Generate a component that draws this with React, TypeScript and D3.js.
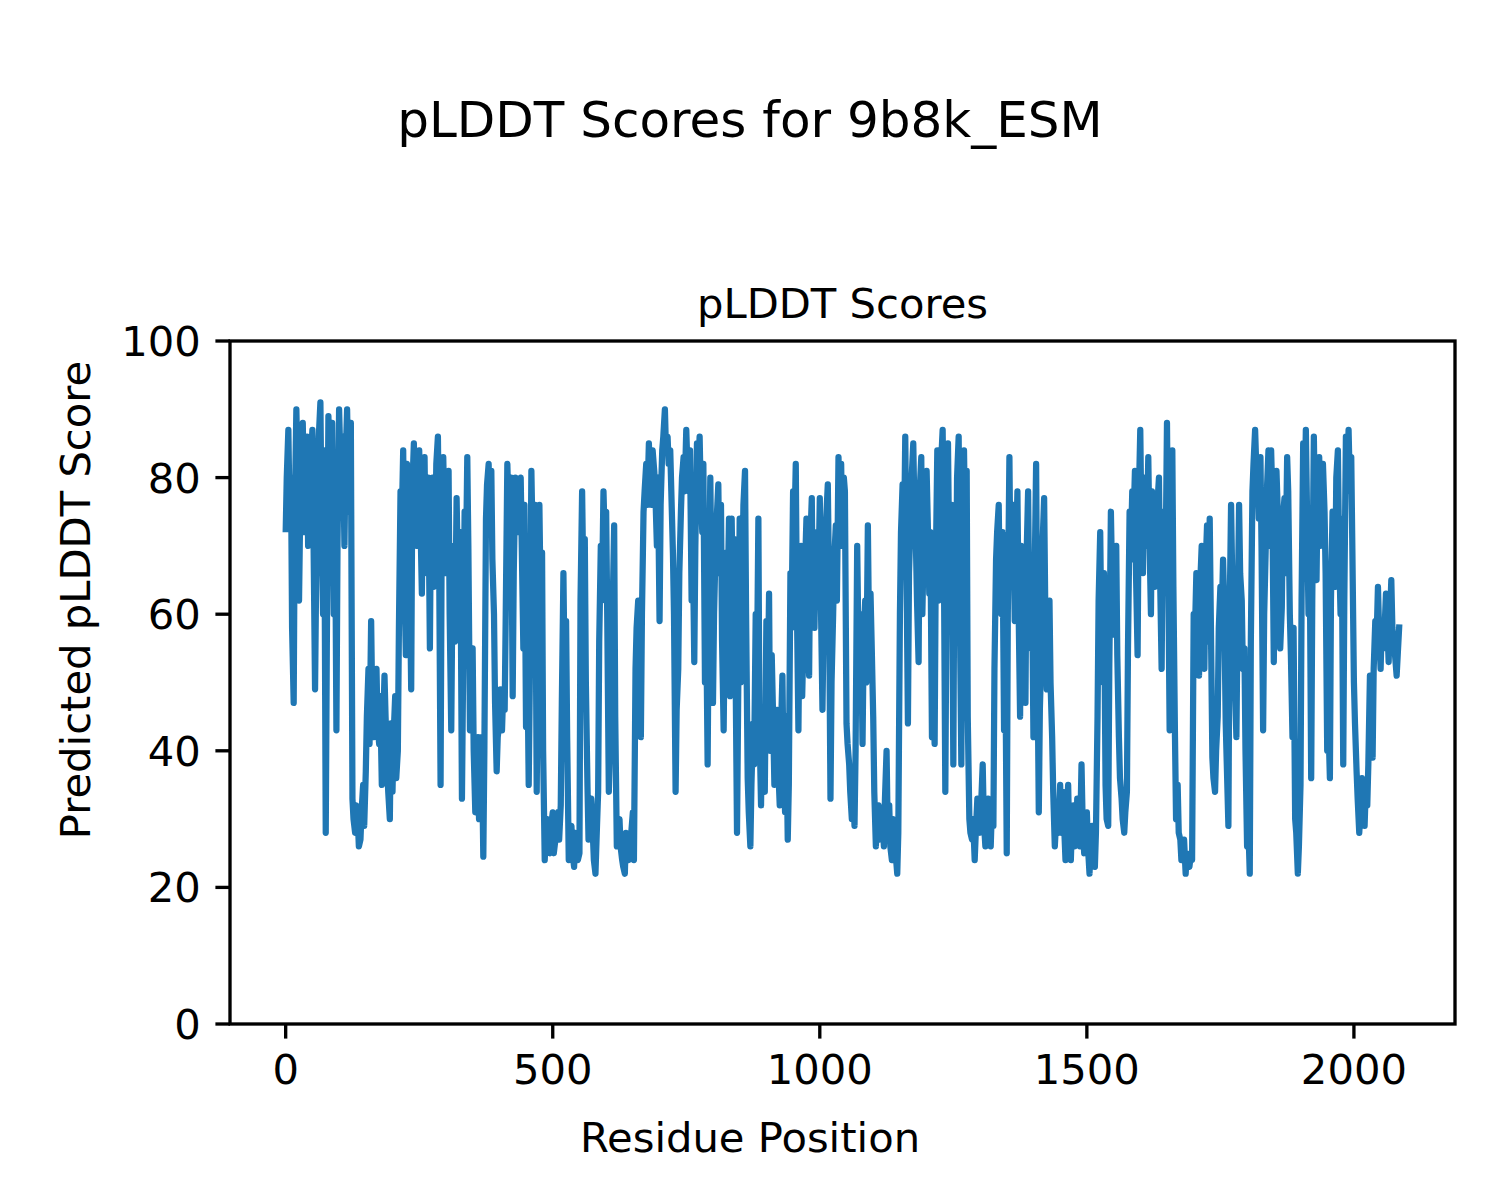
import React from "react";
import * as d3 from "d3";

// Scores sampled every 5 residues (residue = 5 * i)
const RESIDUE_STEP = 5;
// Extra samples between them (residue = 5 * i + 2)
const MID_OFFSET = 2;

const scores: number[] = [
  72, 87, 80, 47, 90, 62, 84, 72, 86, 75,
  87, 49, 80, 91, 60, 28, 89, 75, 60, 43,
  90, 78, 70, 90, 75, 33, 28, 30, 27, 35,
  37, 52, 59, 42, 52, 41, 35, 51, 38, 30,
  34, 48, 40, 78, 84, 54, 80, 49, 85, 70,
  84, 63, 83, 66, 55, 80, 70, 86, 35, 83,
  66, 81, 43, 70, 77, 58, 33, 75, 83, 43,
  55, 31, 42, 36, 24.5, 74, 82, 81, 60, 37,
  44, 43, 46, 82, 72, 48, 80, 72, 80, 55,
  43.5, 35, 81, 60, 34, 76, 69, 24, 30, 25,
  31, 27, 31, 32, 66, 59, 24, 29, 23, 26,
  25, 78, 71, 35, 30, 28, 22, 34, 70, 78,
  75, 34, 50, 73, 26, 30, 24, 22, 26, 25,
  31, 52, 62, 42, 75, 82, 85, 76, 81, 70,
  59, 84, 90, 86, 84, 69, 34, 52, 75, 83,
  87, 78, 62, 53, 85, 86, 72, 50, 38, 80,
  47, 70, 79, 76, 43, 69, 74, 74, 71, 28,
  74, 65, 81, 36, 26, 44, 60, 74, 32, 40,
  59, 63, 54, 35, 46, 32, 51, 31, 27, 66,
  78, 82, 43, 70, 58, 74, 51, 77, 58, 72,
  77, 46, 68, 79, 33, 60, 73, 83, 82, 80,
  44, 38, 30, 29, 70, 50, 41, 62, 73, 63,
  45, 26, 32, 28, 26, 40, 32, 24, 28, 22,
  60, 79, 86, 44, 74, 85, 70, 53, 83, 72,
  81, 63, 42, 41, 84, 70, 87, 34, 85, 60,
  38, 60, 86, 38, 84, 81, 30, 27, 24, 33,
  28, 38, 26, 33, 26, 29, 68, 76, 60, 43,
  25, 83, 70, 59, 78, 45, 60, 47, 78, 55,
  42, 82, 31, 55, 77, 49, 62, 42, 26, 32,
  35, 34, 24, 35, 24, 32, 27, 30, 38, 25,
  31, 22, 29, 23, 45, 72, 50, 35, 29, 75,
  57, 70, 42, 33, 28, 34, 75, 78, 81, 54,
  87, 66, 76, 83, 60, 75, 68, 80, 52, 75,
  88, 43, 84, 42, 35, 27, 25, 22, 24, 25,
  60, 66, 51, 70, 52, 73, 74, 39, 34, 45,
  64, 68, 44, 29, 76, 60, 42, 76, 62, 55,
  26, 22, 78, 87, 80, 83, 43, 70, 84, 84,
  53, 81, 70, 61, 77, 83, 60, 42, 30, 22,
  35, 85, 87, 60, 36, 86, 65, 83, 78, 75,
  40, 36, 75, 64, 84, 60, 38, 86, 87, 83,
  50, 37, 28, 36, 29, 32, 51, 39, 59, 64,
  52, 55, 63, 53, 65, 55, 51, 58.5,
];

const midScores: number[] = [
  80, 76, 58, 75, 82, 74, 88, 78, 70, 82,
  72, 65, 86, 75, 84, 55, 80, 88, 82, 70,
  84, 86, 82, 80, 88, 30, 32, 26, 31, 29,
  45, 41, 47, 50, 44, 48, 42, 45, 34, 44,
  42, 36, 58, 72, 66, 82, 68, 78, 75, 80,
  75, 78, 70, 80, 76, 64, 82, 72, 70, 75,
  75, 60, 62, 56, 68, 72, 50, 64, 70, 50,
  40, 38, 30, 42, 40, 79, 72, 68, 47, 42,
  49, 48, 60, 76, 80, 66, 75, 79, 70, 76,
  58, 50, 72, 76, 55, 64, 40, 28, 26, 29,
  25, 30, 27, 47, 52, 42, 27, 25, 28, 24,
  62, 66, 50, 27, 33, 24, 27, 56, 62, 72,
  60, 40, 60, 45, 28, 26, 23, 28, 24, 28,
  24, 58, 54, 60, 78, 76, 80, 84, 78, 80,
  76, 86, 84, 82, 78, 60, 46, 66, 80, 78,
  82, 84, 72, 70, 80, 78, 82, 62, 60, 66,
  60, 74, 66, 56, 58, 60, 48, 62, 55, 46,
  50, 76, 60, 31, 35, 38, 48, 44, 46, 34,
  45, 40, 47, 44, 38, 42, 38, 45, 35, 58,
  70, 62, 60, 48, 66, 58, 70, 60, 68, 62,
  62, 58, 74, 66, 50, 68, 62, 76, 70, 78,
  41, 34, 36, 40, 58, 60, 55, 50, 58, 56,
  34, 30, 27, 31, 33, 29, 26, 30, 25, 28,
  72, 66, 70, 66, 80, 76, 62, 78, 60, 77,
  74, 72, 50, 66, 62, 82, 72, 60, 70, 76,
  70, 80, 62, 70, 72, 45, 28, 30, 28, 30,
  32, 30, 30, 28, 31, 52, 72, 62, 72, 58,
  60, 66, 76, 66, 62, 70, 55, 68, 62, 68,
  64, 58, 46, 70, 62, 56, 50, 34, 29, 28,
  28, 30, 30, 27, 29, 26, 33, 26, 30, 28,
  26, 27, 25, 28, 62, 58, 66, 30, 52, 66,
  66, 54, 36, 30, 31, 55, 68, 72, 66, 76,
  74, 80, 70, 72, 78, 64, 76, 66, 72, 64,
  70, 72, 64, 30, 28, 24, 27, 25, 23, 24,
  56, 58, 64, 58, 66, 56, 60, 36, 40, 58,
  58, 62, 38, 58, 66, 50, 58, 66, 52, 40,
  30, 56, 82, 82, 74, 70, 60, 78, 70, 78,
  66, 76, 55, 74, 66, 78, 54, 58, 28, 26,
  62, 72, 76, 72, 62, 74, 78, 70, 82, 66,
  45, 62, 68, 80, 70, 74, 62, 78, 80, 70,
  44, 33, 31, 33, 34, 38, 44, 52, 55, 58,
  58, 57, 60, 58, 58, 54, 54,
];

const xTicks: number[] = [0, 500, 1000, 1500, 2000];
const yTicks: number[] = [0, 20, 40, 60, 80, 100];

const FIG_TITLE = "pLDDT Scores for 9b8k_ESM";
const AX_TITLE = "pLDDT Scores";
const X_LABEL = "Residue Position";
const Y_LABEL = "Predicted pLDDT Score";

const W = 1500;
const H = 1200;
const left = 230;
const right = 1455;
const top = 341;
const bottom = 1024;
const FONT = "'DejaVu Sans', sans-serif";
const TICK_LEN = 14.6;
const TICK_PAD = 14.6;
const FS = 41.7;

export default function App() {
  const points: [number, number][] = [];
  scores.forEach((v, i) => {
    points.push([i * RESIDUE_STEP, v]);
    if (i < midScores.length) points.push([i * RESIDUE_STEP + MID_OFFSET, midScores[i]]);
  });
  const xMax = d3.max(points, (p) => p[0]) as number;
  const xMin = 0;
  const pad = (xMax - xMin) * 0.05;
  const x = d3.scaleLinear().domain([xMin - pad, xMax + pad]).range([left, right]);
  const y = d3.scaleLinear().domain([0, 100]).range([bottom, top]);
  const line = d3
    .line<[number, number]>()
    .x((d) => x(d[0]))
    .y((d) => y(d[1]));

  return (
    <svg
      width={W}
      height={H}
      viewBox={`0 0 ${W} ${H}`}
      style={{ position: "absolute", left: 0, top: 0, background: "#fff" }}
      fontFamily={FONT}
    >
      <rect x={0} y={0} width={W} height={H} fill="#fff" />
      <text x={750} y={136.5} fontSize={50} textAnchor="middle" fill="#000">
        {FIG_TITLE}
      </text>
      <text x={(left + right) / 2} y={318} fontSize={FS} textAnchor="middle" fill="#000">
        {AX_TITLE}
      </text>

      <path
        d={line(points) || ""}
        fill="none"
        stroke="#1f77b4"
        strokeWidth={6.25}
        strokeLinejoin="round"
        strokeLinecap="butt"
      />

      <rect
        x={left}
        y={top}
        width={right - left}
        height={bottom - top}
        fill="none"
        stroke="#000"
        strokeWidth={3.33}
      />

      {xTicks.map((t) => (
        <g key={`x${t}`}>
          <line x1={x(t)} x2={x(t)} y1={bottom} y2={bottom + TICK_LEN} stroke="#000" strokeWidth={3.33} />
          <text x={x(t)} y={bottom + TICK_LEN + TICK_PAD + 31} fontSize={FS} textAnchor="middle" fill="#000">
            {t}
          </text>
        </g>
      ))}
      {yTicks.map((t) => (
        <g key={`y${t}`}>
          <line x1={left - TICK_LEN} x2={left} y1={y(t)} y2={y(t)} stroke="#000" strokeWidth={3.33} />
          <text
            x={left - TICK_LEN - TICK_PAD}
            y={y(t) + 15}
            fontSize={FS}
            textAnchor="end"
            fill="#000"
          >
            {t}
          </text>
        </g>
      ))}

      <text x={750} y={1152} fontSize={FS} textAnchor="middle" fill="#000">
        {X_LABEL}
      </text>
      <text
        transform={`translate(90, 600) rotate(-90)`}
        fontSize={FS}
        textAnchor="middle"
        fill="#000"
      >
        {Y_LABEL}
      </text>
    </svg>
  );
}
